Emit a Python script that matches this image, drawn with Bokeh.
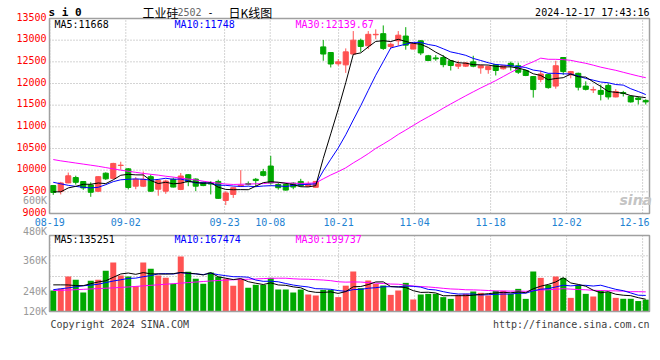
from bokeh.plotting import figure
from bokeh.models import ColumnDataSource, Label, Range1d, Grid
from bokeh.core.properties import value
from bokeh.embed import file_html
from bokeh.resources import INLINE

# ---------------- data ----------------
tick_labels = ["08-19", "09-02", "09-23", "10-08", "10-21", "11-04", "11-18", "12-02", "12-16"]
tick_index = [0, 10, 23, 29, 38, 48, 58, 68, 78]
price_ticks = [9000, 9500, 10000, 10500, 11000, 11500, 12000, 12500, 13000, 13500]

opens = [9645, 9510, 9705, 9830, 9738, 9660, 9513, 9930, 9810, 10108,
         10030, 9630, 9630, 9850, 9560, 9515, 9790, 9555, 9895, 9795,
         9720, 9700, 9740, 9300, 9440, 9630, 9690, 9790, 9965, 10095,
         9670, 9670, 9700, 9740, 9630, 9605, 12845, 12715, 12455, 12430,
         12680, 12995, 12870, 13125, 13150, 12855, 12985, 13095, 12795, 12985,
         12640, 12590, 12600, 12525, 12400, 12400, 12500, 12360, 12320, 12435,
         12340, 12465, 12410, 12300, 12160, 12095, 12205, 11940, 12600, 12200,
         12235, 11940, 11850, 11840, 11955, 11690, 11790, 11705, 11665, 11610]
highs = [9655, 9730, 9945, 9872, 9745, 9720, 9860, 9950, 10170, 10195,
         10050, 9840, 9970, 9900, 9790, 9780, 9830, 9935, 9910, 9810,
         9740, 9745, 9780, 9515, 9600, 10000, 9740, 9820, 10030, 10330,
         9720, 9700, 9720, 9800, 9740, 9750, 13005, 12720, 12565, 12810,
         13210, 13035, 13210, 13250, 13340, 12945, 13210, 13300, 12940, 13000,
         12660, 12655, 12655, 12540, 12525, 12490, 12640, 12420, 12410, 12450,
         12420, 12505, 12480, 12320, 12170, 12300, 12230, 12525, 12610, 12290,
         12250, 12050, 11930, 11975, 12005, 11870, 11830, 11720, 11700, 11635]
lows = [9430, 9440, 9700, 9666, 9545, 9385, 9500, 9775, 9800, 10010,
        9555, 9560, 9610, 9500, 9410, 9455, 9600, 9540, 9630, 9515,
        9630, 9440, 9340, 9195, 9360, 9620, 9650, 9630, 9855, 9665,
        9550, 9530, 9560, 9620, 9620, 9600, 12525, 12370, 12410, 12245,
        12670, 12730, 12795, 13020, 12775, 12810, 12870, 12780, 12790, 12655,
        12520, 12525, 12375, 12300, 12335, 12380, 12375, 12225, 12225, 12185,
        12320, 12300, 12220, 12170, 11675, 12030, 11880, 11880, 12200, 12120,
        11840, 11840, 11780, 11610, 11630, 11680, 11700, 11560, 11515, 11515]
closes = [9485, 9705, 9870, 9720, 9590, 9490, 9850, 9800, 10155, 10115,
          9600, 9790, 9790, 9515, 9760, 9750, 9610, 9865, 9730, 9630,
          9645, 9680, 9350, 9475, 9595, 9655, 9670, 9760, 9880, 9705,
          9595, 9540, 9610, 9640, 9680, 9740, 12680, 12450, 12500, 12730,
          13000, 12855, 13135, 13135, 12810, 12905, 13115, 12885, 12920, 12705,
          12530, 12570, 12435, 12415, 12450, 12475, 12400, 12410, 12395, 12300,
          12410, 12405, 12260, 12185, 11860, 12220, 11905, 12410, 12275, 12275,
          11915, 11865, 11860, 11750, 11690, 11815, 11770, 11575, 11630, 11575]

ma5 = [9500, 9500, 9590, 9627, 9674, 9675, 9704, 9690, 9777, 9882,
       9904, 9892, 9890, 9762, 9691, 9721, 9685, 9700, 9743, 9717,
       9696, 9710, 9607, 9556, 9549, 9551, 9549, 9631, 9712, 9734,
       9722, 9696, 9666, 9618, 9613, 9642, 10270, 10838, 11410, 12020,
       12672, 12707, 12844, 12971, 12987, 12968, 13020, 12970, 12927, 12906,
       12831, 12722, 12632, 12531, 12480, 12469, 12435, 12430, 12426, 12396,
       12383, 12384, 12354, 12312, 12224, 12186, 12086, 12116, 12134, 12217,
       12156, 12148, 12038, 11933, 11816, 11796, 11777, 11720, 11696, 11673]
ma10 = [9720, 9685, 9650, 9625, 9605, 9590, 9605, 9665, 9735, 9778,
        9790, 9798, 9790, 9770, 9787, 9813, 9789, 9795, 9753, 9704,
        9709, 9698, 9654, 9650, 9633, 9624, 9630, 9619, 9634, 9642,
        9637, 9623, 9649, 9665, 9674, 9682, 9983, 10252, 10514, 10817,
        11157, 11489, 11841, 12191, 12504, 12820, 12864, 12907, 12949, 12947,
        12900, 12871, 12801, 12729, 12693, 12650, 12579, 12531, 12479, 12438,
        12426, 12410, 12392, 12369, 12310, 12285, 12235, 12235, 12223, 12221,
        12171, 12117, 12077, 12034, 12017, 11976, 11963, 11879, 11815, 11745]
ma30 = [10245, 10215, 10190, 10165, 10140, 10115, 10090, 10060, 10030, 10000,
        9975, 9950, 9925, 9905, 9885, 9860, 9840, 9815, 9795, 9775,
        9745, 9720, 9700, 9680, 9670, 9675, 9680, 9685, 9690, 9708,
        9712, 9706, 9697, 9695, 9698, 9706, 9800, 9889, 9967, 10054,
        10167, 10270, 10381, 10502, 10603, 10709, 10825, 10926, 11032, 11135,
        11231, 11327, 11430, 11528, 11623, 11717, 11808, 11897, 11981, 12067,
        12161, 12256, 12345, 12430, 12502, 12585, 12559, 12558, 12550, 12535,
        12499, 12466, 12423, 12377, 12340, 12304, 12259, 12215, 12172, 12134]

# volume in thousands of lots
volume_k = [231, 249, 385, 348, 209, 337, 348, 447, 539, 396,
            385, 279, 539, 469, 396, 370, 304, 605, 436, 359,
            304, 429, 381, 359, 282, 359, 260, 293, 293, 370,
            242, 242, 209, 242, 187, 176, 238, 238, 158, 284,
            440, 257, 341, 304, 286, 183, 231, 315, 132, 187,
            194, 194, 158, 139, 183, 194, 220, 205, 176, 227,
            227, 194, 249, 139, 440, 370, 293, 385, 370, 150,
            293, 194, 165, 227, 213, 150, 140, 140, 115, 130]
vma5 = [293, 293, 292, 285, 284, 306, 325, 338, 376, 413,
        423, 409, 428, 414, 414, 411, 416, 429, 422, 415,
        402, 427, 382, 366, 351, 362, 328, 311, 297, 315,
        292, 288, 271, 261, 224, 211, 210, 216, 199, 219,
        272, 275, 296, 325, 326, 274, 269, 264, 229, 210,
        212, 204, 173, 174, 174, 174, 179, 188, 196, 204,
        211, 206, 215, 207, 250, 278, 298, 325, 372, 314,
        298, 278, 234, 206, 218, 190, 179, 174, 152, 135]
vma10 = [240, 250, 260, 272, 283, 290, 300, 318, 335, 349,
         364, 367, 383, 395, 414, 417, 412, 428, 418, 414,
         406, 421, 405, 394, 383, 382, 377, 346, 332, 333,
         327, 308, 291, 279, 270, 251, 249, 244, 230, 222,
         241, 243, 256, 262, 272, 273, 272, 280, 277, 268,
         243, 237, 218, 202, 192, 193, 192, 181, 185, 189,
         192, 192, 201, 201, 227, 245, 252, 270, 289, 282,
         288, 288, 280, 289, 266, 244, 229, 204, 179, 177]
vma30 = [231, 233, 236, 240, 244, 248, 252, 256, 260, 265,
         270, 276, 282, 288, 294, 300, 306, 312, 318, 324,
         330, 336, 341, 345, 349, 352, 355, 358, 362, 365,
         366, 366, 360, 356, 355, 350, 346, 339, 327, 323,
         325, 324, 317, 312, 308, 302, 300, 290, 280, 274,
         270, 263, 255, 248, 245, 239, 238, 235, 231, 226,
         226, 224, 225, 222, 230, 237, 239, 244, 251, 246,
         241, 239, 233, 231, 228, 227, 224, 218, 218, 216]

vol_axis_labels = ["600K", "480K", "360K", "240K", "120K"]

# ---------------- styling / layout ----------------
RED = "#ff5252"
GREEN = "#00a800"
MONO = "DejaVu Sans Mono"
CJK = "Noto Sans CJK SC"
GRID_C = "#a8a8a8"
OUTLINE_C = "#a0a0a0"
DATE_C = "#1e82d2"
GRAY_TXT = "#999999"

W, H = 656, 340
PX_PER_BAR = 7.5
PANEL_L, PANEL_R = 49, 649          # panel box, page pixels
PRICE_T, PRICE_B = 18, 213
VOL_T, VOL_B = 235, 311
K_PER_PX = 11.0                     # thousand lots per pixel
DATE_HALF_W = 15                    # half width of a date label, px

n = len(closes)
x_lo, x_hi = -0.5, n - 0.5
p_lo, p_hi = price_ticks[0], price_ticks[-1]
p_per_px = (p_hi - p_lo) / (PRICE_B - PRICE_T)
vol_top = (VOL_B - VOL_T) * K_PER_PX

x_range = Range1d(x_lo - PANEL_L / PX_PER_BAR, x_hi + (W - PANEL_R) / PX_PER_BAR)
y_range = Range1d(p_lo - (H - PRICE_B) * p_per_px, p_hi + PRICE_T * p_per_px)

xs = list(range(n))
colors = [RED if c >= o else GREEN for o, c in zip(opens, closes)]
src = ColumnDataSource(dict(
    x=xs, open=opens, high=highs, low=lows, close=closes,
    top=[max(o, c) for o, c in zip(opens, closes)],
    bottom=[min(o, c) for o, c in zip(opens, closes)],
    color=colors, vol=volume_k,
    ma5=ma5, ma10=ma10, ma30=ma30, vma5=vma5, vma10=vma10, vma30=vma30,
))

# Sina's date grid advances a little faster (7.6px) than the candles (7.5px)
tick_x = [round((k * 7.6 - 3.45) / PX_PER_BAR, 4) for k in tick_index]
# date labels are kept inside the panel's right edge
tick_px = [PANEL_L + (t - x_lo) * PX_PER_BAR for t in tick_x]
date_offsets = [min(0.0, PANEL_R - DATE_HALF_W - px) for px in tick_px]

p = figure(width=W, height=H, x_range=x_range, y_range=y_range,
           output_backend="svg", toolbar_location=None, title=None,
           min_border=0, x_axis_location=None, y_axis_location=None)
p.extra_y_ranges = {"vol": Range1d(-(H - VOL_B) * K_PER_PX, VOL_B * K_PER_PX)}
p.center = [r for r in p.center if not isinstance(r, Grid)]
p.outline_line_color = None
p.background_fill_color = "white"
p.border_fill_color = "white"

grid_kw = dict(line_color=GRID_C, line_dash="1 2", line_width=1)

# ---- price panel grid
p.segment(x0=tick_x, y0=[p_lo] * len(tick_x), x1=tick_x, y1=[p_hi] * len(tick_x), **grid_kw)
p.segment(x0=[x_lo] * len(price_ticks), y0=price_ticks, x1=[x_hi] * len(price_ticks),
          y1=price_ticks, **grid_kw)
# ---- volume panel grid
vol_grid = [(VOL_B - 276) * K_PER_PX, (VOL_B - 255.3) * K_PER_PX]
p.segment(x0=tick_x, y0=[0] * len(tick_x), x1=tick_x, y1=[vol_top] * len(tick_x),
          y_range_name="vol", **grid_kw)
p.segment(x0=[x_lo] * 2, y0=vol_grid, x1=[x_hi] * 2, y1=vol_grid,
          y_range_name="vol", **grid_kw)

# ---- candles
p.segment(x0="x", y0="low", x1="x", y1="high", color="color", line_width=1, source=src)
p.vbar(x="x", width=0.68, top="top", bottom="bottom", fill_color="color",
       line_color="color", line_width=1, source=src)
p.line("x", "ma30", color="#ff00ff", line_width=1, source=src)
p.line("x", "ma10", color="#0000ff", line_width=1, source=src)
p.line("x", "ma5", color="#000000", line_width=1, source=src)

# ---- volume
p.vbar(x="x", width=0.8, top="vol", bottom=0, fill_color="color",
       line_color=None, source=src, y_range_name="vol")
p.line("x", "vma30", color="#ff00ff", line_width=1, source=src, y_range_name="vol")
p.line("x", "vma10", color="#0000ff", line_width=1, source=src, y_range_name="vol")
p.line("x", "vma5", color="#000000", line_width=1, source=src, y_range_name="vol")

# ---- panel boxes
p.quad(left=[x_lo], right=[x_hi], bottom=[p_lo], top=[p_hi], fill_color=None,
       line_color=OUTLINE_C, line_width=1.5)
p.quad(left=[x_lo], right=[x_hi], bottom=[0], top=[vol_top], fill_color=None,
       line_color=OUTLINE_C, line_width=1.5, y_range_name="vol")

# ---- axis labels
p.text(x=[x_lo] * len(price_ticks), y=price_ticks, text=[str(t) for t in price_ticks],
       x_offset=-3, y_offset=-2, text_align="right", text_baseline="middle",
       text_color="#ff0000", text_font=value(MONO), text_font_size="10px")
p.text(x=tick_x, y=[p_lo] * len(tick_x), text=tick_labels, x_offset=date_offsets,
       y_offset=8, text_align="center", text_baseline="middle", text_color=DATE_C,
       text_font=value(MONO), text_font_size="10px")


def add_text(text, page_x, page_y, color="black", size="10px", font=MONO,
             align="left", style="normal"):
    p.add_layout(Label(x=page_x, y=H - page_y, x_units="screen", y_units="screen",
                       text=text, text_color=color, text_font=font,
                       text_font_size=size, text_align=align,
                       text_baseline="middle", text_font_style=style))


# header
add_text("s i 0", 48, 11.5, size="11px", style="bold")
add_text("工业硅", 142, 11.5, size="12px", font=CJK)
add_text("2502", 177, 11.5, color="#666666")
add_text("-", 207, 11.5)
add_text("日K线图", 228, 11.5, size="12px", font=CJK)
add_text("2024-12-17 17:43:16", 649, 11.5, align="right")
# price MA legend
add_text("MA5:11668", 54, 23.7)
add_text("MA10:11748", 174, 23.7, color="#0000ff")
add_text("MA30:12139.67", 295, 23.7, color="#ff00ff")
# watermark
add_text("sina", 619, 199, color="#c4c4c4", size="14px", font="DejaVu Sans",
         style="bold italic")
# volume scale labels
for lab, py in zip(vol_axis_labels, [200, 230.5, 260, 290.5, 311]):
    add_text(lab, 46.5, py, color=GRAY_TXT, align="right")
# volume MA legend
add_text("MA5:135251", 54, 238.5)
add_text("MA10:167474", 174, 238.5, color="#0000ff")
add_text("MA30:199737", 295, 238.5, color="#ff00ff")
# footer
add_text("Copyright 2024 SINA.COM", 50, 323.5, color="#404040")
add_text("http://finance.sina.com.cn", 649, 323.5, color="#404040", align="right")

open("out.html", "w").write(file_html(p, INLINE))
